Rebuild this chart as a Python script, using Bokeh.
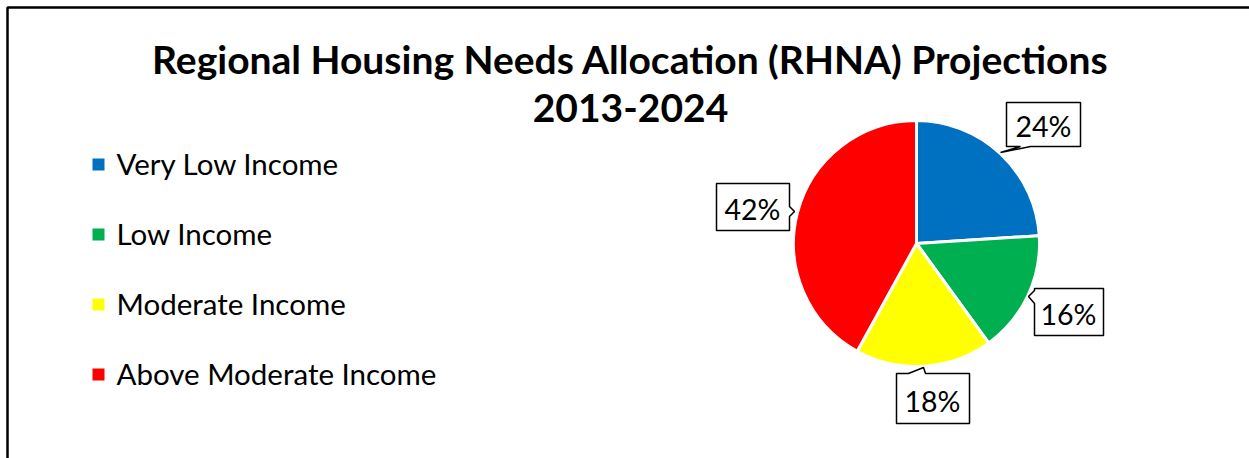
import numpy as np
from bokeh.plotting import figure
from bokeh.models import Range1d, ColumnDataSource
from bokeh.core.properties import value
from bokeh.embed import file_html
from bokeh.resources import INLINE

categories = ["Very Low Income", "Low Income", "Moderate Income", "Above Moderate Income"]
shares = [24, 16, 18, 42]
colors = ["#0070C0", "#00B050", "#FFFF00", "#FF0000"]
label_texts = ["24%", "16%", "18%", "42%"]
title_lines = ["Regional Housing Needs Allocation (RHNA) Projections", "2013-2024"]

W, H = 1249, 458
FONT = "Lato"

def Y(y):
    return H - y

p = figure(width=W, height=H, x_range=Range1d(0, W), y_range=Range1d(0, H),
           output_backend="svg", toolbar_location=None, min_border=0)
p.axis.visible = False
p.grid.visible = False
p.outline_line_color = None
p.background_fill_color = "white"

# border
p.line(x=[7, 7, W + 5], y=[Y(H + 5), Y(7), Y(7)], line_color="black", line_width=2.5)

# pie
total = float(sum(shares))
fr = np.array(shares) / total
cum = np.concatenate([[0], np.cumsum(fr)])
start = np.pi / 2 - 2 * np.pi * cum[1:]
end = np.pi / 2 - 2 * np.pi * cum[:-1]
src = ColumnDataSource(dict(start=start, end=end, color=colors))
p.wedge(x=916, y=Y(243), radius=123, start_angle="start", end_angle="end",
        fill_color="color", line_color="white", line_width=3, source=src)

# title
p.text(x=[630, 630], y=[Y(58), Y(107)], text=title_lines, text_font=value(FONT),
       text_font_style="bold", text_font_size="39px", text_align="center",
       text_baseline="middle", text_color="black")

# legend
ly = [163 + 70 * i for i in range(len(categories))]
p.rect(x=[98] * len(categories), y=[Y(v + 1) for v in ly], width=12, height=12,
       fill_color=colors, line_color=None)
p.text(x=[116] * len(categories), y=[Y(v) for v in ly], text=categories,
       text_font=value(FONT), text_font_size="29.5px", text_align="left",
       text_baseline="middle", text_color="black")

# callout boxes
boxes = [
    [(1006, 102), (1080, 102), (1080, 146), (1030, 146), (1000, 152), (1020, 146), (1006, 146)],
    [(1034, 288), (1103, 288), (1103, 335), (1034, 335), (1034, 303), (1028, 296), (1034, 290)],
    [(896, 373), (908, 373), (923, 367), (925, 373), (969, 373), (969, 423), (896, 423)],
    [(716, 183), (789, 183), (789, 206), (794, 211), (789, 216), (789, 230), (716, 230)],
]
p.patches(xs=[[a for a, b in bx] for bx in boxes], ys=[[Y(b) for a, b in bx] for bx in boxes],
          fill_color="white", line_color="black", line_width=1.5)
lx = [1043, 1068, 932, 752]
lyy = [125, 313, 400, 208]
p.text(x=lx, y=[Y(v) for v in lyy], text=label_texts, text_font=value(FONT),
       text_font_size="28.5px", text_align="center", text_baseline="middle", text_color="black")

open("out.html", "w").write(file_html(p, INLINE))
